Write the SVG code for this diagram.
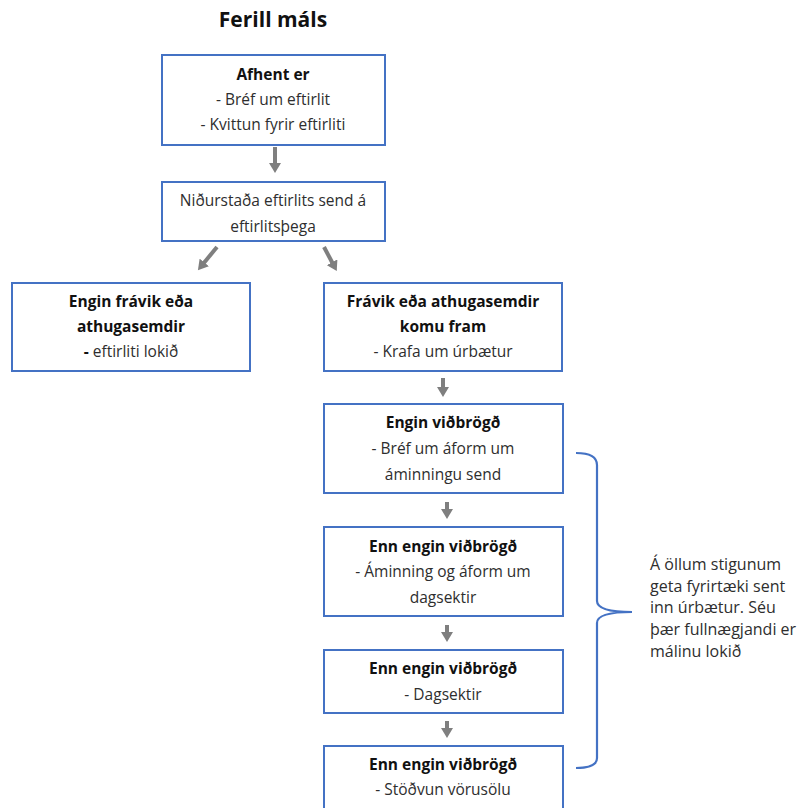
<svg xmlns="http://www.w3.org/2000/svg" width="799" height="808" viewBox="0 0 799 808">
<style>
.box{fill:#fff;stroke:#4472C4;stroke-width:2}
text{font-family:"Open Sans","Liberation Sans",sans-serif;font-size:15.5px;fill:#2e2e2e;text-anchor:middle}
.b{font-weight:bold;fill:#111}
.title{font-size:21px;font-weight:bold;fill:#111}
.note{text-anchor:start;font-size:16px}
.arr{stroke:#7f7f7f;stroke-width:4;fill:none;marker-end:url(#ah)}
.brace{stroke:#4472C4;stroke-width:2.2;fill:none}
</style>
<defs>
<marker id="ah" markerUnits="userSpaceOnUse" markerWidth="14" markerHeight="12" refX="2" refY="6" orient="auto">
<path d="M0,0 L10,6 L0,12 Z" fill="#7f7f7f"/>
</marker>
</defs>
<rect width="799" height="808" fill="#fff"/>
<text class="title" x="273" y="27">Ferill máls</text>
<g id="n1"><rect class="box" x="162" y="55" width="223" height="90"/>
<text class="b" x="273" y="80">Afhent er</text>
<text x="273" y="105">- Bréf um eftirlit</text>
<text x="273" y="130">- Kvittun fyrir eftirliti</text></g>
<g id="n2"><rect class="box" x="162" y="182" width="223" height="59"/>
<text x="273" y="206">Niðurstaða eftirlits send á</text>
<text x="273" y="232">eftirlitsþega</text></g>
<g id="n3"><rect class="box" x="12" y="283" width="238" height="88"/>
<text class="b" x="131" y="307">Engin frávik eða</text>
<text class="b" x="131" y="332">athugasemdir</text>
<text x="131" y="357"><tspan class="b">-</tspan> eftirliti lokið</text></g>
<g id="n4"><rect class="box" x="324" y="283" width="238" height="88"/>
<text class="b" x="443" y="307">Frávik eða athugasemdir</text>
<text class="b" x="443" y="332">komu fram</text>
<text x="443" y="357">- Krafa um úrbætur</text></g>
<g id="n5"><rect class="box" x="324" y="404" width="239" height="89"/>
<text class="b" x="443" y="428">Engin viðbrögð</text>
<text x="443" y="454">- Bréf um áform um</text>
<text x="443" y="480">áminningu send</text></g>
<g id="n6"><rect class="box" x="324" y="527" width="239" height="89"/>
<text class="b" x="443" y="552">Enn engin viðbrögð</text>
<text x="443" y="577">- Áminning og áform um</text>
<text x="443" y="603">dagsektir</text></g>
<g id="n7"><rect class="box" x="324" y="650" width="239" height="63"/>
<text class="b" x="443" y="674">Enn engin viðbrögð</text>
<text x="443" y="700">- Dagsektir</text></g>
<g id="n8"><rect class="box" x="324" y="746" width="239" height="70"/>
<text class="b" x="443" y="770">Enn engin viðbrögð</text>
<text x="443" y="795">- Stöðvun vörusölu</text></g>
<g id="connectors">
<line class="arr" x1="275" y1="147" x2="275" y2="165"/>
<line class="arr" x1="217" y1="247" x2="203" y2="264"/>
<line class="arr" x1="324" y1="247" x2="333" y2="264"/>
<line class="arr" x1="443" y1="378" x2="443" y2="389"/>
<line class="arr" x1="447" y1="502" x2="447" y2="511"/>
<line class="arr" x1="447" y1="625" x2="447" y2="634"/>
<line class="arr" x1="447" y1="721" x2="447" y2="730"/>
</g>
<g id="brace">
<path class="brace" d="M576,453 Q597,453 597,465 L597,601 Q597,612 632,612 Q597,612 597,623 L597,758 Q597,768 576,768"/>
<text class="note" x="650" y="570">Á öllum stigunum</text>
<text class="note" x="650" y="592">geta fyrirtæki sent</text>
<text class="note" x="650" y="613">inn úrbætur. Séu</text>
<text class="note" x="650" y="635">þær fullnægjandi er</text>
<text class="note" x="650" y="657">málinu lokið</text>
</g>
</svg>
